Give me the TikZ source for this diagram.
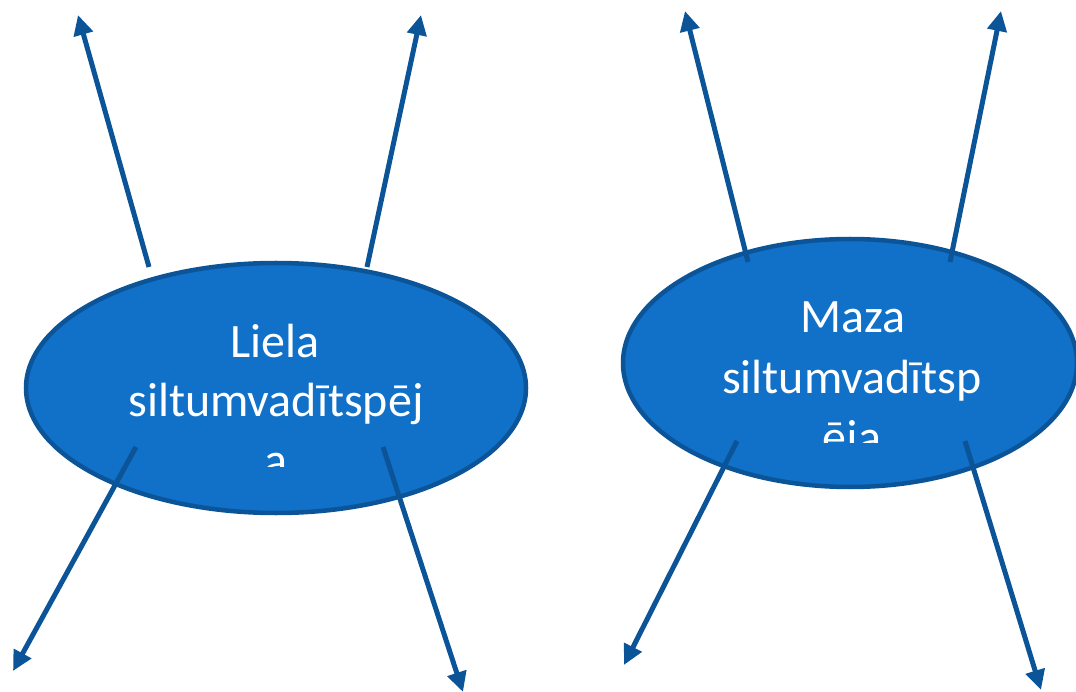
\documentclass[tikz,border=0pt]{standalone}
\usepackage{fontspec}
\setmainfont{Carlito}
\usetikzlibrary{arrows.meta,shapes.geometric}
\definecolor{ellfill}{RGB}{17,112,200}
\definecolor{ellline}{RGB}{11,84,152}
\tikzset{
  blob/.style={ellipse, draw=ellline, line width=4.5pt, fill=ellfill, inner sep=0pt},
  txt/.style={text=white, anchor=base, inner sep=0pt, font={\fontsize{48}{59}\selectfont}},
  ray/.style={draw=ellline, line width=5pt, -{Triangle[length=20pt,width=19pt]}}
}
\begin{document}
\begin{tikzpicture}[x=1pt,y=-1pt]
\useasboundingbox (0,0) rectangle (1076,692);
% ellipses
\node[blob, minimum width=500pt, minimum height=250pt] (L) at (276,388) {};
\node[blob, minimum width=454pt, minimum height=248pt] (R) at (850,363) {};
% texts (clipped)
\begin{scope}
\clip (60,290) rectangle (500,466);
\node[txt] (L1) at (275,358) {Liela};
\node[txt] (L2) at (276,417) {siltumvadītspēj};
\node[txt] (L3) at (276,476) {a};
\end{scope}
\begin{scope}
\clip (640,270) rectangle (1076,442);
\node[txt] (R1) at (853,333) {Maza};
\node[txt] (R2) at (852,393) {siltumvadītsp};
\node[txt] (R3) at (852,453) {ēja};
\end{scope}
% arrow coordinates
\coordinate (La1) at (149,267); \coordinate (La1e) at (78,15);
\coordinate (La2) at (367,267); \coordinate (La2e) at (421,15);
\coordinate (La3) at (136,447); \coordinate (La3e) at (13,671);
\coordinate (La4) at (383,447); \coordinate (La4e) at (463,692);
\coordinate (Ra1) at (748,262); \coordinate (Ra1e) at (685,11);
\coordinate (Ra2) at (950,262); \coordinate (Ra2e) at (1001,11);
\coordinate (Ra3) at (737,441); \coordinate (Ra3e) at (624,665);
\coordinate (Ra4) at (965,441); \coordinate (Ra4e) at (1041,690);
\draw[ray] (La1) -- (La1e);
\draw[ray] (La2) -- (La2e);
\draw[ray] (La3) -- (La3e);
\draw[ray] (La4) -- (La4e);
\draw[ray] (Ra1) -- (Ra1e);
\draw[ray] (Ra2) -- (Ra2e);
\draw[ray] (Ra3) -- (Ra3e);
\draw[ray] (Ra4) -- (Ra4e);
\end{tikzpicture}
\end{document}
